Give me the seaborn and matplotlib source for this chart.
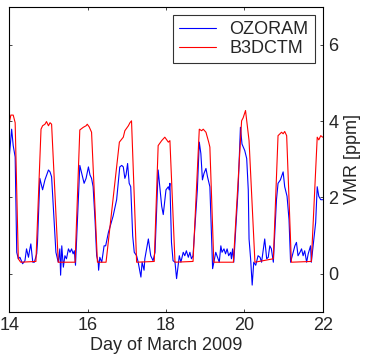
import pandas as pd
import seaborn as sns
import matplotlib.pyplot as plt

ozoram_day = [14.00, 14.06, 14.10, 14.15, 14.19, 14.23, 14.27, 14.34, 14.40, 14.44, 14.49, 14.51,
              14.55, 14.60, 14.64, 14.70, 14.72, 14.78, 14.85, 14.91, 15.00, 15.04, 15.08, 15.19,
              15.25, 15.29, 15.31, 15.34, 15.38, 15.42, 15.46, 15.51, 15.55, 15.59, 15.63, 15.66,
              15.69, 15.80, 15.87, 15.91, 15.96, 16.02, 16.06, 16.10, 16.14, 16.19, 16.23, 16.27,
              16.28, 16.31, 16.36, 16.42, 16.46, 16.53, 16.65, 16.74, 16.82, 16.87, 16.91, 16.95,
              16.98, 17.02, 17.06, 17.10, 17.15, 17.19, 17.25, 17.29, 17.36, 17.39, 17.44, 17.46,
              17.55, 17.61, 17.67, 17.72, 17.80, 17.89, 17.93, 18.00, 18.06, 18.08, 18.10, 18.14,
              18.18, 18.23, 18.27, 18.34, 18.38, 18.44, 18.48, 18.52, 18.57, 18.61, 18.65, 18.69,
              18.80, 18.85, 18.89, 18.93, 18.97, 19.02, 19.06, 19.12, 19.19, 19.27, 19.36, 19.40,
              19.43, 19.48, 19.52, 19.56, 19.60, 19.65, 19.67, 19.70, 19.73, 19.84, 19.90, 19.94,
              20.01, 20.06, 20.10, 20.12, 20.16, 20.20, 20.24, 20.29, 20.35, 20.40, 20.44, 20.52,
              20.57, 20.61, 20.65, 20.69, 20.74, 20.82, 20.86, 20.92, 20.99, 21.03, 21.09, 21.14,
              21.18, 21.29, 21.33, 21.37, 21.42, 21.46, 21.50, 21.54, 21.59, 21.63, 21.69, 21.71,
              21.82, 21.86, 21.90, 21.95, 22.00]
ozoram_vmr = [3.06, 3.79, 3.36, 3.06, 0.56, 0.39, 0.43, 0.26, 0.34, 0.65, 0.43, 0.56,
              0.78, 0.30, 0.30, 0.52, 0.82, 2.50, 2.20, 2.46, 2.72, 2.67, 2.54, 0.56,
              0.30, 0.65, -0.04, 0.73, 0.17, 0.47, 0.39, 0.65, 0.56, 0.65, 0.52, 0.60,
              0.22, 2.84, 2.54, 2.37, 2.50, 2.80, 2.59, 2.50, 2.28, 1.38, 0.47, 0.30,
              0.09, 0.43, 0.30, 0.73, 0.73, 1.08, 1.51, 1.94, 2.80, 2.84, 2.80, 2.50,
              2.59, 2.89, 2.37, 2.28, 0.99, 0.56, 0.47, 0.30, -0.09, 0.30, 0.09, 0.39,
              0.91, 0.47, 0.34, 0.56, 2.72, 1.77, 1.55, 2.20, 2.28, 2.20, 2.37, 0.82,
              0.34, 0.30, -0.13, 0.47, 0.30, 0.56, 0.47, 0.60, 0.43, 0.56, 0.39, 0.47,
              2.20, 3.45, 3.15, 2.46, 2.63, 2.76, 2.54, 2.28, 0.13, 0.56, 0.30, 0.73,
              0.56, 0.65, 0.52, 0.65, 0.47, 0.56, 0.39, 0.65, 0.30, 2.20, 3.84, 3.40,
              3.23, 3.02, 2.20, 0.91, 0.39, -0.30, 0.30, 0.22, 0.47, 0.43, 0.30, 0.91,
              0.39, 0.43, 0.73, 0.65, 0.30, 1.94, 2.37, 2.46, 2.67, 2.28, 2.03, 1.42,
              0.30, 0.73, 0.82, 0.47, 0.56, 0.65, 0.47, 0.60, 0.30, 0.52, 0.73, 0.30,
              1.34, 2.28, 2.03, 1.94, 1.94]

b3dctm_day = [14.00, 14.04, 14.10, 14.15, 14.23, 14.29, 14.68, 14.81, 14.85, 14.91, 14.95, 15.00,
              15.04, 15.08, 15.25, 15.68, 15.80, 15.89, 15.96, 15.99, 16.04, 16.10, 16.25, 16.47,
              16.81, 16.91, 16.95, 17.04, 17.08, 17.12, 17.25, 17.70, 17.80, 17.89, 17.97, 18.06,
              18.10, 18.23, 18.69, 18.85, 18.91, 18.95, 19.02, 19.09, 19.12, 19.22, 19.72, 19.93,
              19.97, 20.03, 20.12, 20.27, 20.74, 20.86, 20.95, 20.99, 21.03, 21.08, 21.20, 21.71,
              21.86, 21.90, 21.95, 22.00]
b3dctm_vmr = [3.96, 4.16, 4.16, 3.96, 0.39, 0.30, 0.32, 3.79, 3.88, 3.92, 3.99, 3.88,
              3.96, 3.92, 0.30, 0.30, 3.77, 3.84, 3.88, 3.92, 3.85, 3.71, 0.30, 0.30,
              3.45, 3.58, 3.75, 3.88, 3.96, 4.01, 0.30, 0.32, 3.36, 3.49, 3.58, 3.45,
              3.49, 0.30, 0.32, 3.79, 3.75, 3.79, 3.71, 3.45, 3.32, 0.30, 0.30, 4.01,
              4.09, 4.28, 3.49, 0.30, 0.39, 3.62, 3.71, 3.67, 3.73, 3.62, 0.30, 0.32,
              3.58, 3.51, 3.62, 3.58]

df = pd.concat([
    pd.DataFrame({"day": ozoram_day, "vmr": ozoram_vmr, "source": "OZORAM"}),
    pd.DataFrame({"day": b3dctm_day, "vmr": b3dctm_vmr, "source": "B3DCTM"}),
])

sns.set_style("white")
plt.rcParams["font.family"] = ["Liberation Sans", "DejaVu Sans"]

fig = plt.figure(figsize=(3.67, 3.6), dpi=100)
ax = fig.add_axes([0.0253, 0.134, 0.8540, 0.847])
sns.lineplot(data=df, x="day", y="vmr", hue="source", estimator=None, sort=False,
             palette={"OZORAM": "blue", "B3DCTM": "red"}, linewidth=0.8, ax=ax)

ax.set_xlim(14, 22)
ax.set_ylim(-1, 7)
ax.set_xticks([14, 16, 18, 20, 22])
ax.set_yticks([0, 2, 4, 6])
ax.set_xlabel("Day of March 2009", fontsize=13, labelpad=2)
ax.set_ylabel("VMR [ppm]", fontsize=13, labelpad=4)
ax.yaxis.set_label_position("right")
ax.tick_params(axis="both", direction="in", length=2.5, width=0.6, labelsize=13,
               top=True, bottom=True, left=True, right=True,
               labelleft=False, labelright=True, pad=4)
for s in ax.spines.values():
    s.set_color("black")
    s.set_linewidth(0.8)

# matlab-style legend box, a bit wider than matplotlib's default
leg = ax.legend(loc="upper right", fontsize=13, frameon=True, fancybox=False,
                handlelength=2.0, handletextpad=0.75, labelspacing=0.1,
                borderaxespad=0.45, borderpad=0.35)
leg.get_frame().set_edgecolor("black")
leg.get_frame().set_linewidth(0.8)

fig.savefig("out.png", dpi=100)
